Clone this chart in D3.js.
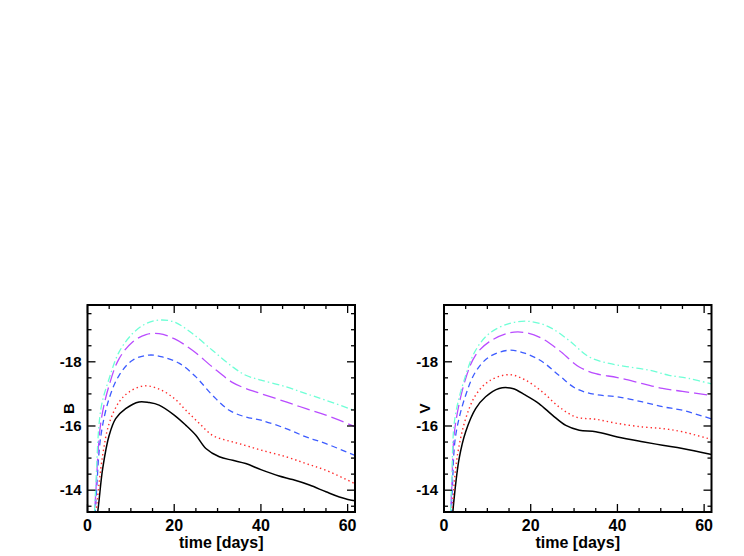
<!DOCTYPE html>
<html>
<head>
<meta charset="utf-8">
<script src="https://cdn.jsdelivr.net/npm/d3@7"></script>
<style>
  body { margin: 0; background: #fff; }
  svg text { font-family: "Liberation Sans", Arial, sans-serif; font-weight: bold; }
</style>
</head>
<body>
<svg id="chart" width="744" height="556"></svg>
<script>
// --- data: [time (days), magnitude] ---
const bandNames = ["B", "V"];
const xTicks = [0, 20, 40, 60];
const yTicks = [-14, -16, -18];

const bBlack  = [[2.0,-12.9],[2.6,-13.6],[3.5,-14.67],[5,-15.71],[6.5,-16.23],[8.8,-16.54],[11.9,-16.75],[14.2,-16.73],[16.5,-16.65],[20,-16.34],[22.7,-16.02],[25,-15.71],[27.3,-15.3],[30.4,-15.04],[33.5,-14.93],[36.5,-14.83],[40,-14.64],[44.2,-14.44],[47.3,-14.33],[51.2,-14.16],[55,-13.95],[58.1,-13.79],[61.7,-13.67]];
const bRed    = [[1.7,-12.9],[2.2,-13.6],[3.5,-15.09],[5,-16.08],[7.3,-16.75],[9.6,-17.06],[13.1,-17.25],[16.5,-17.15],[20,-16.86],[22.7,-16.49],[25.8,-16.08],[28.8,-15.71],[31.9,-15.56],[35,-15.45],[40,-15.25],[45.8,-15.04],[50.4,-14.83],[55,-14.62],[61.7,-14.2]];
const bBlue   = [[1.6,-12.9],[2.0,-13.8],[3.1,-15.71],[5,-16.86],[7.3,-17.58],[10.4,-18.05],[14.2,-18.21],[17.3,-18.15],[21.2,-17.95],[25,-17.53],[28.8,-16.96],[32.7,-16.49],[36.5,-16.28],[40,-16.18],[45.8,-15.92],[50.4,-15.66],[55,-15.45],[61.7,-15.08]];
const bPurple = [[1.5,-12.9],[1.9,-13.9],[3.1,-16.13],[5,-17.27],[7.3,-18.1],[10.4,-18.62],[13.5,-18.85],[16.5,-18.88],[20,-18.72],[24.2,-18.36],[28.8,-17.84],[33.5,-17.35],[36.5,-17.17],[40,-17.01],[45.8,-16.75],[50.4,-16.54],[55,-16.34],[61.7,-15.98]];
const bCyan   = [[1.5,-12.9],[1.9,-14.1],[3.1,-16.54],[5,-17.48],[7.3,-18.31],[10.4,-18.88],[13.5,-19.19],[16.5,-19.3],[20,-19.24],[24.2,-18.88],[28.8,-18.36],[33.5,-17.84],[36.5,-17.58],[40,-17.43],[45.8,-17.22],[50.4,-17.01],[55,-16.8],[61.7,-16.48]];

const vBlack  = [[1.8,-12.9],[2.3,-13.7],[3.5,-14.99],[5,-15.82],[7.3,-16.54],[9.6,-16.91],[12.7,-17.17],[15.8,-17.17],[18.8,-16.96],[21.9,-16.7],[25,-16.34],[28.1,-16.02],[31.2,-15.87],[35,-15.82],[40,-15.66],[45.8,-15.51],[50.4,-15.4],[55,-15.3],[61.7,-15.11]];
const vRed    = [[1.6,-12.9],[2.1,-13.8],[3.1,-15.09],[5,-16.23],[7.3,-16.96],[10.4,-17.4],[15,-17.6],[18.8,-17.43],[22.7,-17.06],[26.5,-16.6],[30.4,-16.28],[35,-16.21],[40,-16.08],[45.8,-15.97],[50.4,-15.92],[55,-15.82],[61.7,-15.58]];
const vBlue   = [[1.5,-12.9],[1.9,-14.0],[2.7,-15.71],[5,-16.96],[7.3,-17.69],[10.4,-18.15],[15,-18.36],[18.8,-18.26],[22.7,-18.0],[26.5,-17.58],[30.4,-17.17],[35,-16.98],[40,-16.91],[45.8,-16.75],[50.4,-16.6],[55,-16.49],[61.7,-16.22]];
const vPurple = [[1.4,-12.9],[1.8,-14.1],[2.5,-15.92],[5,-17.48],[7.3,-18.21],[10.4,-18.62],[15,-18.9],[18.8,-18.91],[22.7,-18.72],[26.5,-18.36],[31.2,-17.84],[35,-17.63],[40,-17.51],[45.8,-17.32],[50.4,-17.17],[55,-17.08],[61.7,-16.95]];
const vCyan   = [[1.4,-12.9],[1.8,-14.3],[2.5,-16.23],[5,-17.58],[7.3,-18.36],[10.4,-18.88],[15,-19.19],[19.6,-19.26],[24.2,-19.09],[28.8,-18.67],[33.5,-18.15],[38.1,-17.95],[42.7,-17.84],[47.3,-17.74],[51.9,-17.58],[56.5,-17.48],[61.7,-17.31]];

const panelSeries = [
  [bBlack, bRed, bBlue, bPurple, bCyan],
  [vBlack, vRed, vBlue, vPurple, vCyan]
];

// line styles, same order as the series
const styles = [
  { color: "#000000", dash: null,            width: 1.5 },
  { color: "#ff2a2a", dash: "1.4,3",         width: 1.4 },
  { color: "#3d5cff", dash: "6,4",           width: 1.3 },
  { color: "#b94cff", dash: "13,5",          width: 1.3 },
  { color: "#6fffd6", dash: "7,3,1.5,3",     width: 1.3 }
];

const svg = d3.select("#chart");
const panelLeft = [87.5, 444];
const plotW = 267.5, plotTop = 305, plotH = 207;

panelLeft.forEach((left, p) => {
  const g = svg.append("g").attr("transform", `translate(${left},${plotTop})`);

  const x = d3.scaleLinear().domain([0, 61.7]).range([0, plotW]);
  const y = d3.scaleLinear().domain([-13.32, -19.77]).range([plotH, 0]);

  g.append("clipPath").attr("id", "clip" + p)
    .append("rect").attr("width", plotW).attr("height", plotH);

  const line = d3.line()
    .x(d => x(d[0]))
    .y(d => y(d[1]))
    .curve(d3.curveCatmullRom.alpha(0.5));

  const gLines = g.append("g").attr("clip-path", `url(#clip${p})`);
  panelSeries[p].forEach((s, i) => {
    gLines.append("path")
      .attr("d", line(s))
      .attr("fill", "none")
      .attr("stroke", styles[i].color)
      .attr("stroke-width", styles[i].width)
      .attr("stroke-dasharray", styles[i].dash);
  });

  // ticks on all four sides, pointing inward
  const xMinor = d3.range(0, 61, 5);
  const yMinor = d3.range(-13.5, -19.8, -0.5);
  const major = 8, minor = 4;

  const tk = g.append("g").attr("stroke", "#000").attr("stroke-width", 1.3);
  xMinor.forEach(t => {
    const len = t % 20 === 0 ? major : minor;
    tk.append("line").attr("x1", x(t)).attr("x2", x(t)).attr("y1", plotH).attr("y2", plotH - len);
    tk.append("line").attr("x1", x(t)).attr("x2", x(t)).attr("y1", 0).attr("y2", len);
  });
  yMinor.forEach(m => {
    const len = Math.abs(m) % 2 === 0 ? major : minor;
    tk.append("line").attr("y1", y(m)).attr("y2", y(m)).attr("x1", 0).attr("x2", len);
    tk.append("line").attr("y1", y(m)).attr("y2", y(m)).attr("x1", plotW).attr("x2", plotW - len);
  });

  // frame
  g.append("rect")
    .attr("width", plotW).attr("height", plotH)
    .attr("fill", "none").attr("stroke", "#000").attr("stroke-width", 2);

  // tick labels
  g.selectAll("text.xt").data(xTicks).join("text")
    .attr("class", "xt")
    .attr("x", d => x(d)).attr("y", plotH + 19)
    .attr("text-anchor", "middle")
    .attr("font-size", 16)
    .text(d => d);

  g.selectAll("text.yt").data(yTicks).join("text")
    .attr("class", "yt")
    .attr("x", -6).attr("y", d => y(d) + 5)
    .attr("text-anchor", "end")
    .attr("font-size", 15)
    .text(d => "-" + Math.abs(d));

  // axis titles
  g.append("text")
    .attr("x", plotW / 2).attr("y", plotH + 36)
    .attr("text-anchor", "middle")
    .attr("font-size", 16)
    .text("time [days]");

  g.append("text")
    .attr("transform", `translate(-14,${plotH / 2}) rotate(-90)`)
    .attr("text-anchor", "middle")
    .attr("font-size", 15)
    .text(bandNames[p]);
});
</script>
</body>
</html>
